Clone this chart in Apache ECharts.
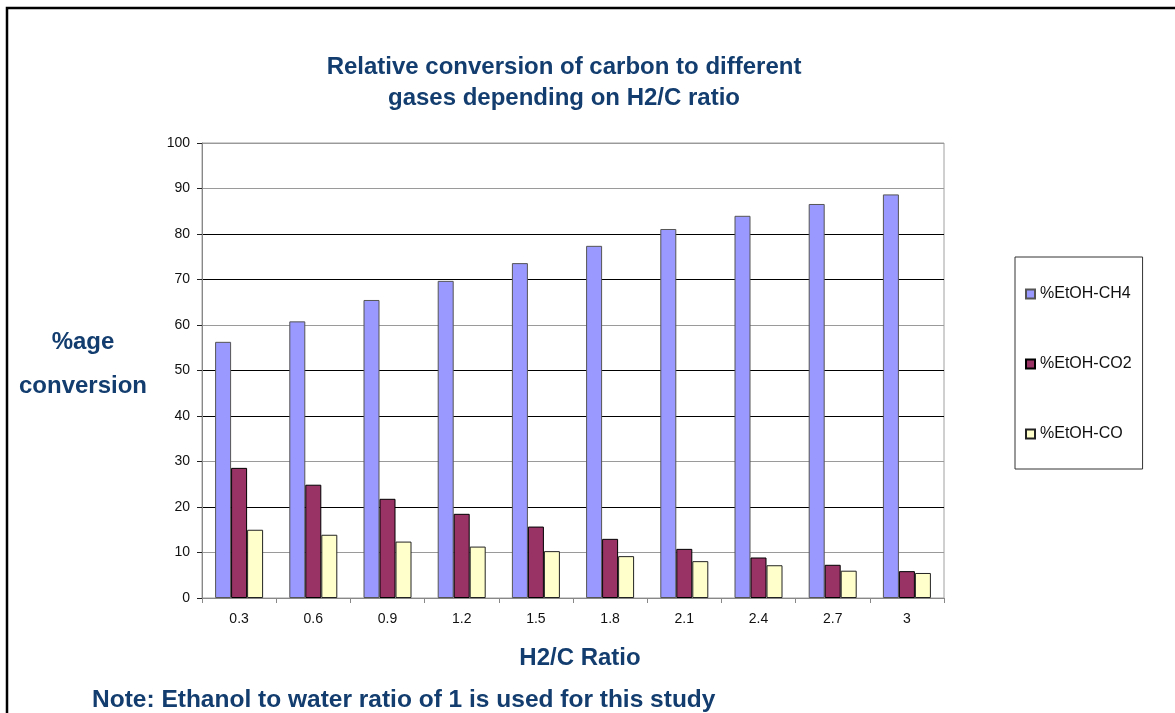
<!DOCTYPE html>
<html>
<head>
<meta charset="utf-8">
<script src="https://cdn.jsdelivr.net/npm/echarts@6/dist/echarts.min.js"></script>
<style>
html,body{margin:0;padding:0;background:#fff;}
#chart{width:1175px;height:713px;}
</style>
</head>
<body>
<div id="chart"></div>
<script>
const categories = ['0.3','0.6','0.9','1.2','1.5','1.8','2.1','2.4','2.7','3'];
const ch4 = [56.3, 60.8, 65.5, 69.7, 73.6, 77.4, 81.1, 84.0, 86.6, 88.7];
const co2 = [28.6, 24.9, 21.8, 18.5, 15.7, 13.0, 10.8, 8.9, 7.3, 5.9];
const co  = [15.0, 13.9, 12.4, 11.3, 10.3, 9.2, 8.1, 7.2, 6.0, 5.5];
const seriesNames = ['%EtOH-CH4', '%EtOH-CO2', '%EtOH-CO'];
const titleText = 'Relative conversion of carbon to different\ngases depending on H2/C ratio';
const yName = '%age\nconversion';
const xName = 'H2/C Ratio';
const noteText = 'Note: Ethanol to water ratio of 1 is used for this study';

const FONT = '"Liberation Sans", Arial, sans-serif';
const NAVY = '#123D6E';
const G = '#9a9a9a', K = '#000';

const chart = echarts.init(document.getElementById('chart'));
chart.setOption({
  animation: false,
  backgroundColor: '#fff',
  textStyle: { fontFamily: FONT },
  grid: { left: 202, right: 231, top: 143, bottom: 115, show: true, borderColor: '#a0a0a0', borderWidth: 1 },
  legend: {
    orient: 'vertical',
    left: 1015, top: 257,
    padding: [29, 11, 27, 10],
    itemGap: 54,
    itemWidth: 9, itemHeight: 9,
    icon: 'rect',
    borderColor: '#333', borderWidth: 1,
    textStyle: { fontFamily: FONT, fontSize: 16, color: '#111' },
    data: seriesNames
  },
  xAxis: {
    type: 'category',
    data: categories,
    axisLine: { lineStyle: { color: '#888' } },
    axisTick: { show: true, length: 5, lineStyle: { color: '#888' } },
    axisLabel: { fontFamily: FONT, fontSize: 14, color: '#111', margin: 14 }
  },
  yAxis: {
    type: 'value',
    min: 0, max: 100, interval: 10,
    axisLine: { show: true, lineStyle: { color: '#888' } },
    axisTick: { show: true, length: 5, lineStyle: { color: '#222' } },
    axisLabel: { fontFamily: FONT, fontSize: 14, color: '#111', margin: 12 },
    splitLine: { show: true, lineStyle: { width: 1, color: [K, G, K, G, K, K, G, K, K, G, G] } }
  },
  series: [
    { name: seriesNames[0], type: 'bar', data: ch4, barWidth: 16, barGap: '0%',
      itemStyle: { color: '#9999FF', borderColor: '#555', borderWidth: 1 } },
    { name: seriesNames[1], type: 'bar', data: co2, barWidth: 16, barGap: '0%',
      itemStyle: { color: '#993366', borderColor: '#000', borderWidth: 1 } },
    { name: seriesNames[2], type: 'bar', data: co, barWidth: 16, barGap: '0%',
      itemStyle: { color: '#FFFFCC', borderColor: '#222', borderWidth: 1 } }
  ],
  graphic: [
    { type: 'rect', shape: { x: 7, y: 8, width: 1400, height: 900 },
      style: { fill: 'none', stroke: '#000', lineWidth: 2.5 }, silent: true },
    { type: 'text', x: 564, y: 83, style: { text: titleText, font: 'bold 24px ' + FONT, fill: NAVY, textAlign: 'center', textVerticalAlign: 'middle', lineHeight: 31 } },
    { type: 'text', x: 83, y: 364, style: { text: yName, font: 'bold 24px ' + FONT, fill: NAVY, textAlign: 'center', textVerticalAlign: 'middle', lineHeight: 44 } },
    { type: 'text', x: 580, y: 658, style: { text: xName, font: 'bold 24px ' + FONT, fill: NAVY, textAlign: 'center', textVerticalAlign: 'middle' } },
    { type: 'text', x: 92, y: 700, style: { text: noteText, font: 'bold 24.5px ' + FONT, fill: NAVY, textAlign: 'left', textVerticalAlign: 'middle' } }
  ]
});
</script>
</body>
</html>
